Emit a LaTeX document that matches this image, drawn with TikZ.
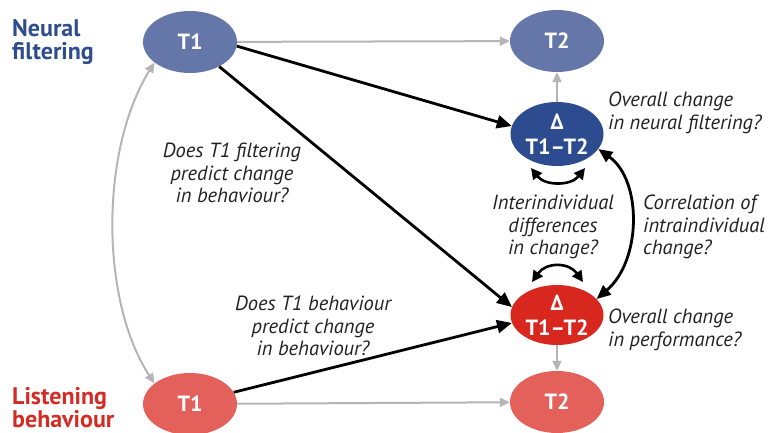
\documentclass[tikz,border=0pt]{standalone}
\usepackage{fontspec}
\setmainfont{PT Sans}
\usetikzlibrary{shapes.geometric,arrows.meta}
\definecolor{nlight}{HTML}{6577A8}
\definecolor{ndark}{HTML}{2D4B8F}
\definecolor{ntext}{HTML}{2E4D8F}
\definecolor{llight}{HTML}{E4605B}
\definecolor{ldark}{HTML}{D8271E}
\definecolor{ltext}{HTML}{D42B25}
\definecolor{garrow}{HTML}{B5B5B5}
\definecolor{qtext}{HTML}{222222}
\tikzset{
  ell/.style={ellipse, inner sep=0pt, minimum width=94pt, minimum height=62pt, text=white, font=\bfseries\fontsize{22}{25}\selectfont, align=center},
  grayarrow/.style={draw=garrow, line width=2pt, -{Triangle[length=10pt,width=9pt]}},
  graydbl/.style={draw=garrow, line width=2pt, {Triangle[length=10pt,width=9pt]}-{Triangle[length=10pt,width=9pt]}},
  blackarrow/.style={draw=black, line width=2.8pt, -{Triangle[length=15pt,width=13pt]}},
  blackdbl/.style={draw=black, line width=2.8pt, {Triangle[length=14pt,width=12pt]}-{Triangle[length=14pt,width=12pt]}},
  smalldbl/.style={draw=black, line width=2.6pt, {Triangle[length=11pt,width=11pt]}-{Triangle[length=11pt,width=11pt]}},
  question/.style={inner sep=0pt, text=qtext, font=\itshape\fontsize{20.5}{22.5}\selectfont},
  title/.style={inner sep=0pt, anchor=north west, align=left, font=\bfseries\fontsize{24}{23}\selectfont}
}
\begin{document}
\begin{tikzpicture}[x=1pt,y=-1pt]
\useasboundingbox (0,0) rectangle (770,433);
% nodes
\node[ell, fill=nlight] (nt1) at (190,42) {T1};
\node[ell, fill=nlight] (nt2) at (557,41) {T2};
\node[ell, fill=ndark, minimum width=93pt, minimum height=64pt] (nd) at (557,134) {Δ\\T1–T2};
\node[ell, fill=ldark, minimum width=93pt, minimum height=60pt] (ld) at (557,315) {Δ\\T1–T2};
\node[ell, fill=llight] (lt1) at (190,404) {T1};
\node[ell, fill=llight] (lt2) at (557,402) {T2};
% titles
\node[title, text=ntext] (tn) at (12,19) {Neural\\filtering};
\node[title, text=ltext] (tl) at (12,387) {Listening\\behaviour};
% questions
\node[question, anchor=north, align=center] (q1) at (232,143) {Does T1 filtering\\predict change\\in behaviour?};
\node[question, anchor=north, align=center] (q2) at (313,296) {Does T1 behaviour\\predict change\\in behaviour?};
\node[question, anchor=north west, align=left] (q3) at (608,92) {Overall change\\in neural filtering?};
\node[question, anchor=north, align=center] (q4) at (553,195) {Interindividual\\differences\\in change?};
\node[question, anchor=north west, align=left] (q5) at (643,195) {Correlation of\\intraindividual\\change?};
\node[question, anchor=north west, align=left] (q6) at (608,309) {Overall change\\in performance?};
% gray connectors
\draw[grayarrow] (nt1) -- (nt2);
\draw[grayarrow] (lt1) -- (lt2);
\draw[grayarrow] (nd) -- (nt2);
\draw[grayarrow] (ld) -- (lt2);
\draw[graydbl] (nt1.210) .. controls (100,150) and (100,300) .. (lt1.150);
% black connectors
\draw[blackarrow] (nt1.-5) -- (nd.170);
\draw[blackarrow] (nt1.-40) -- (ld.170);
\draw[blackarrow] (lt1.15) -- (ld.190);
\draw[blackdbl] (nd.-20) .. controls (642,180) and (642,260) .. (ld.22);
% small arcs
\coordinate (a1) at (531,168);
\coordinate (a2) at (585,168);
\coordinate (b1) at (532,282);
\coordinate (b2) at (583,282);
\draw[smalldbl] (a1) .. controls (545,186) and (571,186) .. (a2);
\draw[smalldbl] (b1) .. controls (546,262) and (569,262) .. (b2);
\end{tikzpicture}
\end{document}
